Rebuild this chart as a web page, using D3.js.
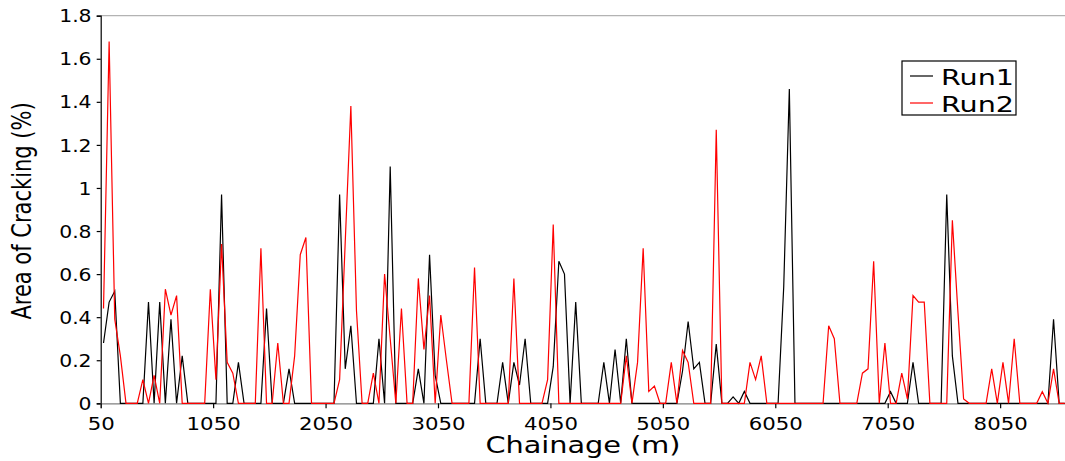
<!DOCTYPE html>
<html>
<head>
<meta charset="utf-8">
<script src="https://cdn.jsdelivr.net/npm/d3@7"></script>
<style>
  body { margin: 0; background: #fff; }
  svg { display: block; font-family: "DejaVu Sans", Verdana, sans-serif; }
</style>
</head>
<body>
<div id="chart"></div>
<script>
// chainage categories, one every 50 m
var chainage = d3.range(50, 8650, 50);

// area of cracking (%) per chainage
var run1 = [
  0.28, 0.47, 0.52, 0, 0, 0, 0, 0, 0.47, 0,
  0.47, 0, 0.39, 0, 0.22, 0, 0, 0, 0, 0,
  0, 0.97, 0, 0, 0.19, 0, 0, 0, 0, 0.44,
  0, 0, 0, 0.16, 0, 0, 0, 0, 0, 0,
  0, 0, 0.97, 0.16, 0.36, 0, 0, 0, 0, 0.30,
  0, 1.10, 0, 0, 0, 0, 0.16, 0, 0.69, 0.13,
  0, 0, 0, 0, 0, 0, 0, 0.30, 0, 0,
  0, 0.19, 0, 0.19, 0.085, 0.30, 0, 0, 0, 0,
  0.17, 0.66, 0.60, 0, 0.47, 0, 0, 0, 0, 0.19,
  0, 0.25, 0, 0.30, 0, 0, 0, 0, 0, 0,
  0, 0, 0, 0.15, 0.38, 0.16, 0.19, 0, 0, 0.275,
  0, 0, 0.03, 0, 0.055, 0, 0, 0, 0, 0,
  0, 0.54, 1.46, 0, 0, 0, 0, 0, 0, 0,
  0, 0, 0, 0, 0, 0, 0, 0, 0, 0,
  0.054, 0, 0, 0, 0.19, 0, 0, 0, 0, 0,
  0.97, 0.22, 0, 0, 0, 0, 0, 0, 0, 0,
  0, 0, 0, 0, 0, 0, 0, 0, 0, 0.39,
  0, 0
];

var run2 = [
  0.44, 1.68, 0.39, 0.22, 0, 0, 0, 0.11, 0, 0.13,
  0, 0.53, 0.41, 0.50, 0, 0, 0, 0, 0, 0.53,
  0.11, 0.74, 0.19, 0.14, 0, 0, 0, 0, 0.72, 0,
  0, 0.28, 0, 0, 0.22, 0.69, 0.77, 0, 0, 0,
  0, 0, 0.11, 0.75, 1.38, 0.43, 0, 0, 0.14, 0,
  0.60, 0.30, 0, 0.44, 0, 0, 0.58, 0.25, 0.50, 0,
  0.41, 0.20, 0, 0, 0, 0, 0.63, 0, 0, 0,
  0, 0, 0, 0.58, 0, 0, 0, 0, 0, 0.11,
  0.83, 0, 0, 0, 0, 0, 0, 0, 0, 0,
  0, 0, 0, 0.22, 0, 0.19, 0.72, 0.055, 0.08, 0,
  0, 0.19, 0, 0.245, 0.19, 0, 0, 0, 0, 1.27,
  0, 0, 0, 0, 0, 0.19, 0.11, 0.22, 0, 0,
  0, 0, 0, 0, 0, 0, 0, 0, 0, 0.36,
  0.30, 0, 0, 0, 0, 0.14, 0.16, 0.66, 0, 0.28,
  0, 0, 0.14, 0.02, 0.50, 0.47, 0.47, 0, 0, 0,
  0, 0.85, 0.42, 0.02, 0, 0, 0, 0, 0.16, 0,
  0.19, 0, 0.30, 0, 0, 0, 0, 0.054, 0, 0.16,
  0, 0
];

var xTicks = [50, 1050, 2050, 3050, 4050, 5050, 6050, 7050, 8050];
var yTicks = [0, 0.2, 0.4, 0.6, 0.8, 1, 1.2, 1.4, 1.6, 1.8];
var seriesNames = ["Run1", "Run2"];
var seriesColors = ["#000000", "#ff0000"];

function drawChart() {
    var width = 1065, height = 461;
    var plotLeft = 100.7, plotRight = 1067.6, plotTop = 15.7, plotBottom = 403.3;
    var stretch = 1.25; // text in the picture is drawn wider than normal

    var svg = d3.select("#chart").append("svg")
        .attr("width", width)
        .attr("height", height);

    var x = d3.scaleBand().domain(chainage).range([plotLeft, plotRight]).padding(0);
    var xAxisScale = d3.scaleLinear().domain([50, 8650]).range([plotLeft, plotRight]);
    var y = d3.scaleLinear().domain([0, 1.8]).range([plotBottom, plotTop]);

    // top border line
    svg.append("line")
        .attr("x1", plotLeft).attr("x2", width)
        .attr("y1", y(1.8)).attr("y2", y(1.8))
        .attr("stroke", "#b3b3b3").attr("stroke-width", 1.2);

    // y axis
    var yAxis = svg.append("g")
        .attr("transform", "translate(" + plotLeft + ",0)")
        .call(d3.axisLeft(y).tickValues(yTicks).tickSize(4).tickPadding(0)
            .tickFormat(function(d) { return d3.format("~g")(d); }));
    yAxis.select(".domain").attr("stroke", "#000").attr("stroke-width", 1.2);
    yAxis.selectAll(".tick line").attr("stroke", "#000").attr("stroke-width", 1.2);
    yAxis.selectAll(".tick text")
        .attr("x", -9.5 / stretch)
        .attr("dy", "0.36em")
        .attr("transform", "scale(1.2,1)")
        .attr("font-size", 17)
        .attr("font-family", "DejaVu Sans")
        .attr("fill", "#000");

    // x axis
    var xAxis = svg.append("g")
        .attr("transform", "translate(0," + plotBottom + ")")
        .call(d3.axisBottom(xAxisScale).tickValues(xTicks).tickSize(5).tickPadding(0)
            .tickFormat(function(d) { return d; }));
    xAxis.select(".domain").attr("stroke", "#808080").attr("stroke-width", 1.2);
    xAxis.selectAll(".tick line").attr("stroke", "#000").attr("stroke-width", 1.2);
    xAxis.selectAll(".tick text")
        .attr("y", 27)
        .attr("dy", 0)
        .attr("transform", "scale(" + stretch + ",1)")
        .attr("font-size", 17)
        .attr("font-family", "DejaVu Sans")
        .attr("fill", "#000");

    // lines
    var line = d3.line()
        .x(function(d, i) { return x(chainage[i]) + x.bandwidth() / 2; })
        .y(function(d) { return y(d); });

    [run1, run2].forEach(function(series, k) {
        svg.append("path")
            .datum(series)
            .attr("fill", "none")
            .attr("stroke", seriesColors[k])
            .attr("stroke-width", 1.2)
            .attr("stroke-linejoin", "miter")
            .attr("d", line);
    });

    // axis titles
    svg.append("text")
        .attr("transform", "translate(583,453) scale(" + stretch + ",1)")
        .attr("text-anchor", "middle")
        .attr("font-size", 23)
        .text("Chainage (m)");

    svg.append("text")
        .attr("transform", "translate(31,211) rotate(-90) scale(1," + stretch + ")")
        .attr("text-anchor", "middle")
        .attr("font-size", 21)
        .text("Area of Cracking (%)");

    // legend
    var legend = svg.append("g");
    legend.append("rect")
        .attr("x", 902).attr("y", 61)
        .attr("width", 114).attr("height", 54)
        .attr("fill", "#fff").attr("stroke", "#000").attr("stroke-width", 1.2);

    seriesNames.forEach(function(name, k) {
        var ly = 76 + k * 27;
        legend.append("line")
            .attr("x1", 910).attr("x2", 933)
            .attr("y1", ly).attr("y2", ly)
            .attr("stroke", seriesColors[k]).attr("stroke-width", 1.2);
        legend.append("text")
            .attr("transform", "translate(941," + (ly + 8.5) + ") scale(1.3,1)")
            .attr("font-size", 22)
            .text(name);
    });
}

drawChart();
</script>
</body>
</html>
